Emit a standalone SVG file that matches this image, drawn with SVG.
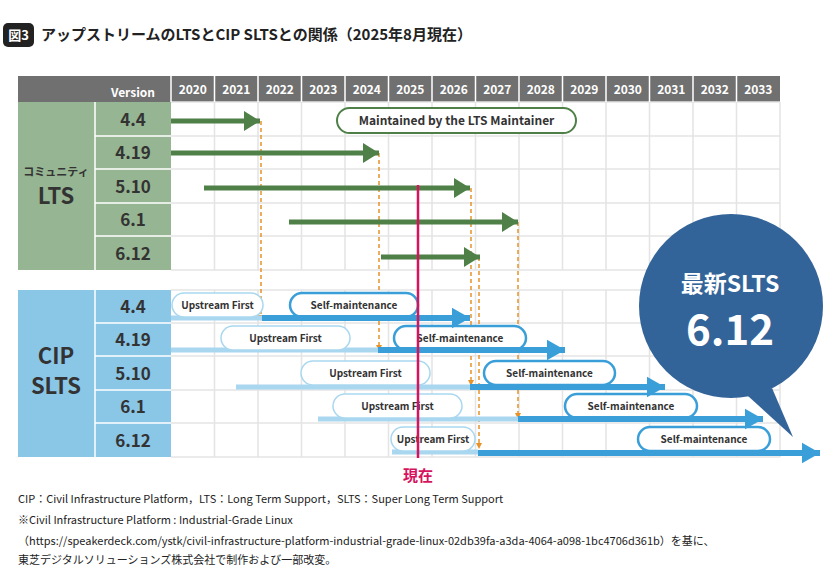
<svg xmlns="http://www.w3.org/2000/svg" width="840" height="579" viewBox="0 0 840 579">
<style>
text{font-family:"Noto Sans CJK JP","Noto Sans",sans-serif;font-weight:700}
.g{stroke:#e4e4e4;stroke-width:1.5}
.hd{fill:#fff;font-size:12px;text-anchor:middle}
.ver{fill:#333;font-size:17px;text-anchor:middle}
.ga{stroke:#4e8048;stroke-width:5}
.dl{stroke:#e8932a;stroke-width:1.5;stroke-dasharray:4 3;fill:none}
.lt{stroke:#a9d7ef;stroke-width:5}
.bl{stroke:#3a9fd8;stroke-width:6}
.up{fill:#fff;stroke:#a9d7ef;stroke-width:1.5}
.sm{fill:#fff;stroke:#3a9fd8;stroke-width:2.5}
.pt{fill:#333;font-size:10px;text-anchor:middle}
.ft{fill:#222;font-size:11px;font-weight:400}
</style>
<defs>
<marker id="ag" markerWidth="4" markerHeight="4" refX="3.2" refY="2" orient="auto" markerUnits="strokeWidth"><path d="M0,0L3.2,2L0,4z" fill="#4e8048"/></marker>
<marker id="ab" markerWidth="4" markerHeight="4" refX="3" refY="2" orient="auto" markerUnits="strokeWidth"><path d="M0,0.3L3,2L0,3.7z" fill="#3a9fd8"/></marker>
<marker id="ao" markerWidth="6" markerHeight="6" refX="3" refY="3" orient="auto" markerUnits="userSpaceOnUse"><path d="M0,0L6,3L0,6z" fill="#e8932a"/></marker>
</defs>
<rect width="840" height="579" fill="#fff"/>
<g id="title">
<rect x="3" y="23" width="31" height="24" rx="5" fill="#222"/>
<text x="18.5" y="40" fill="#fff" font-size="13" text-anchor="middle">図3</text>
<text x="41" y="40" fill="#222" font-size="15" font-weight="400">アップストリームのLTSとCIP SLTSとの関係（2025年8月現在）</text>
</g>
<g id="grid">
<rect x="18" y="76" width="762" height="26" fill="#707070"/>
<g class="g">
<line x1="171" y1="102" x2="780" y2="102"/>
<line x1="171" y1="136" x2="780" y2="136"/><line x1="171" y1="169" x2="780" y2="169"/><line x1="171" y1="203" x2="780" y2="203"/><line x1="171" y1="236" x2="780" y2="236"/><line x1="171" y1="270" x2="780" y2="270"/>
<line x1="171" y1="290" x2="780" y2="290"/><line x1="171" y1="323" x2="780" y2="323"/><line x1="171" y1="356" x2="780" y2="356"/><line x1="171" y1="390" x2="780" y2="390"/><line x1="171" y1="423" x2="780" y2="423"/><line x1="171" y1="457" x2="780" y2="457"/>
<path d="M214.5,102V270M258,102V270M301.5,102V270M345,102V270M388.5,102V270M432,102V270M475.5,102V270M519,102V270M562.5,102V270M606,102V270M649.5,102V270M693,102V270M736.5,102V270M780,102V270"/>
<path d="M214.5,290V457M258,290V457M301.5,290V457M345,290V457M388.5,290V457M432,290V457M475.5,290V457M519,290V457M562.5,290V457M606,290V457M649.5,290V457M693,290V457M736.5,290V457M780,290V457"/>
</g>
<path d="M171,76V102M214.5,76V102M258,76V102M301.5,76V102M345,76V102M388.5,76V102M432,76V102M475.5,76V102M519,76V102M562.5,76V102M606,76V102M649.5,76V102M693,76V102M736.5,76V102" stroke="#fff" stroke-width="1.5"/>
<text class="hd" x="133" y="97">Version</text>
<text class="hd" x="192.8" y="94">2020</text><text class="hd" x="236.3" y="94">2021</text><text class="hd" x="279.8" y="94">2022</text><text class="hd" x="323.3" y="94">2023</text><text class="hd" x="366.8" y="94">2024</text><text class="hd" x="410.3" y="94">2025</text><text class="hd" x="453.8" y="94">2026</text><text class="hd" x="497.3" y="94">2027</text><text class="hd" x="540.8" y="94">2028</text><text class="hd" x="584.3" y="94">2029</text><text class="hd" x="627.8" y="94">2030</text><text class="hd" x="671.3" y="94">2031</text><text class="hd" x="714.8" y="94">2032</text><text class="hd" x="758.3" y="94">2033</text>
</g>
<g id="lts-labels">
<rect x="18" y="102" width="153" height="168" fill="#96b592"/>
<path d="M95,102V270M95,136H171M95,169H171M95,203H171M95,236H171" stroke="#fff" stroke-width="1.5"/>
<text x="56" y="176" fill="#333" font-size="11" text-anchor="middle">コミュニティ</text>
<text x="56" y="204" fill="#333" font-size="22" text-anchor="middle">LTS</text>
<text class="ver" x="133" y="126">4.4</text><text class="ver" x="133" y="159">4.19</text><text class="ver" x="133" y="193">5.10</text><text class="ver" x="133" y="226">6.1</text><text class="ver" x="133" y="260">6.12</text>
</g>
<g id="cip-labels">
<rect x="18" y="290" width="153" height="167" fill="#8ac6e6"/>
<path d="M95,290V457M95,323H171M95,356H171M95,390H171M95,423H171" stroke="#fff" stroke-width="1.5"/>
<text x="56" y="364" fill="#333" font-size="22" text-anchor="middle">CIP</text>
<text x="56" y="394" fill="#333" font-size="22" text-anchor="middle">SLTS</text>
<text class="ver" x="133" y="313">4.4</text><text class="ver" x="133" y="346">4.19</text><text class="ver" x="133" y="380">5.10</text><text class="ver" x="133" y="413">6.1</text><text class="ver" x="133" y="447">6.12</text>
</g>
<g id="connectors">
<path class="dl" d="M261,121V318" marker-end="url(#ao)"/>
<path class="dl" d="M379,153V348" marker-end="url(#ao)"/>
<path class="dl" d="M471,188V383" marker-end="url(#ao)"/>
<path class="dl" d="M479,257V446" marker-end="url(#ao)"/>
<path class="dl" d="M518,222V416" marker-end="url(#ao)"/>
<line class="ga" x1="171" y1="121" x2="260" y2="121" marker-end="url(#ag)"/>
<line class="ga" x1="171" y1="153" x2="379" y2="153" marker-end="url(#ag)"/>
<line class="ga" x1="204" y1="188" x2="470" y2="188" marker-end="url(#ag)"/>
<line class="ga" x1="289" y1="222" x2="518" y2="222" marker-end="url(#ag)"/>
<line class="ga" x1="381" y1="257" x2="480" y2="257" marker-end="url(#ag)"/>
<line class="lt" x1="171" y1="318" x2="262" y2="318"/>
<line class="lt" x1="171" y1="350" x2="378" y2="350"/>
<line class="lt" x1="236" y1="387" x2="470" y2="387"/>
<line class="lt" x1="318" y1="419" x2="518" y2="419"/>
<line class="lt" x1="392" y1="452" x2="478" y2="452"/>
</g>
<g id="pills">
<rect x="337" y="108" width="239" height="25" rx="12.5" fill="#fff" stroke="#4e8048" stroke-width="2"/>
<text x="456.5" y="125" fill="#333" font-size="12" text-anchor="middle">Maintained by the LTS Maintainer</text>
<rect class="up" x="172" y="293" width="91" height="24" rx="12"/><text class="pt" x="217.5" y="309">Upstream First</text>
<rect class="sm" x="290" y="293" width="128" height="24" rx="12"/><text class="pt" x="354" y="309">Self-maintenance</text>
<rect class="up" x="221" y="326" width="129" height="24" rx="12"/><text class="pt" x="285.5" y="342">Upstream First</text>
<rect class="sm" x="394" y="326" width="132" height="24" rx="12"/><text class="pt" x="460" y="342">Self-maintenance</text>
<rect class="up" x="301" y="361" width="129" height="24" rx="12"/><text class="pt" x="365.5" y="377">Upstream First</text>
<rect class="sm" x="484" y="361" width="131" height="24" rx="12"/><text class="pt" x="549.5" y="377">Self-maintenance</text>
<rect class="up" x="333" y="394" width="129" height="24" rx="12"/><text class="pt" x="397.5" y="410">Upstream First</text>
<rect class="sm" x="565" y="394" width="132" height="24" rx="12"/><text class="pt" x="631" y="410">Self-maintenance</text>
<rect class="up" x="391" y="427" width="84" height="24" rx="12"/><text class="pt" x="433" y="443">Upstream First</text>
<rect class="sm" x="638" y="427" width="132" height="24" rx="12"/><text class="pt" x="704" y="443">Self-maintenance</text>
</g>
<g id="blue-arrows">
<line class="bl" x1="262" y1="318" x2="470" y2="318" marker-end="url(#ab)"/>
<line class="bl" x1="378" y1="350" x2="565" y2="350" marker-end="url(#ab)"/>
<line class="bl" x1="470" y1="387" x2="665" y2="387" marker-end="url(#ab)"/>
<line class="bl" x1="518" y1="419" x2="763" y2="419" marker-end="url(#ab)"/>
<line class="bl" x1="478" y1="453" x2="820" y2="453" marker-end="url(#ab)"/>
</g>
<g id="now">
<line x1="418" y1="185" x2="418" y2="458" stroke="#d6135e" stroke-width="2.5"/>
<text x="418" y="481" fill="#d6135e" font-size="15" text-anchor="middle">現在</text>
</g>
<g id="bubble">
<path d="M772,388L793,437L748,396z" fill="#336499"/>
<circle cx="731" cy="306" r="92" fill="#336499"/>
<text x="730" y="292" fill="#fff" font-size="23" text-anchor="middle">最新SLTS</text>
<text x="730" y="345" fill="#fff" font-size="42" text-anchor="middle">6.12</text>
</g>
<g id="footnote">
<text class="ft" x="18" y="503">CIP：Civil Infrastructure Platform，LTS：Long Term Support，SLTS：Super Long Term Support</text>
<text class="ft" x="18" y="524">※Civil Infrastructure Platform : Industrial-Grade Linux</text>
<text class="ft" x="18" y="545">（https://speakerdeck.com/ystk/civil-infrastructure-platform-industrial-grade-linux-02db39fa-a3da-4064-a098-1bc4706d361b）を基に、</text>
<text class="ft" x="18" y="564">東芝デジタルソリューションズ株式会社で制作および一部改変。</text>
</g>
</svg>
